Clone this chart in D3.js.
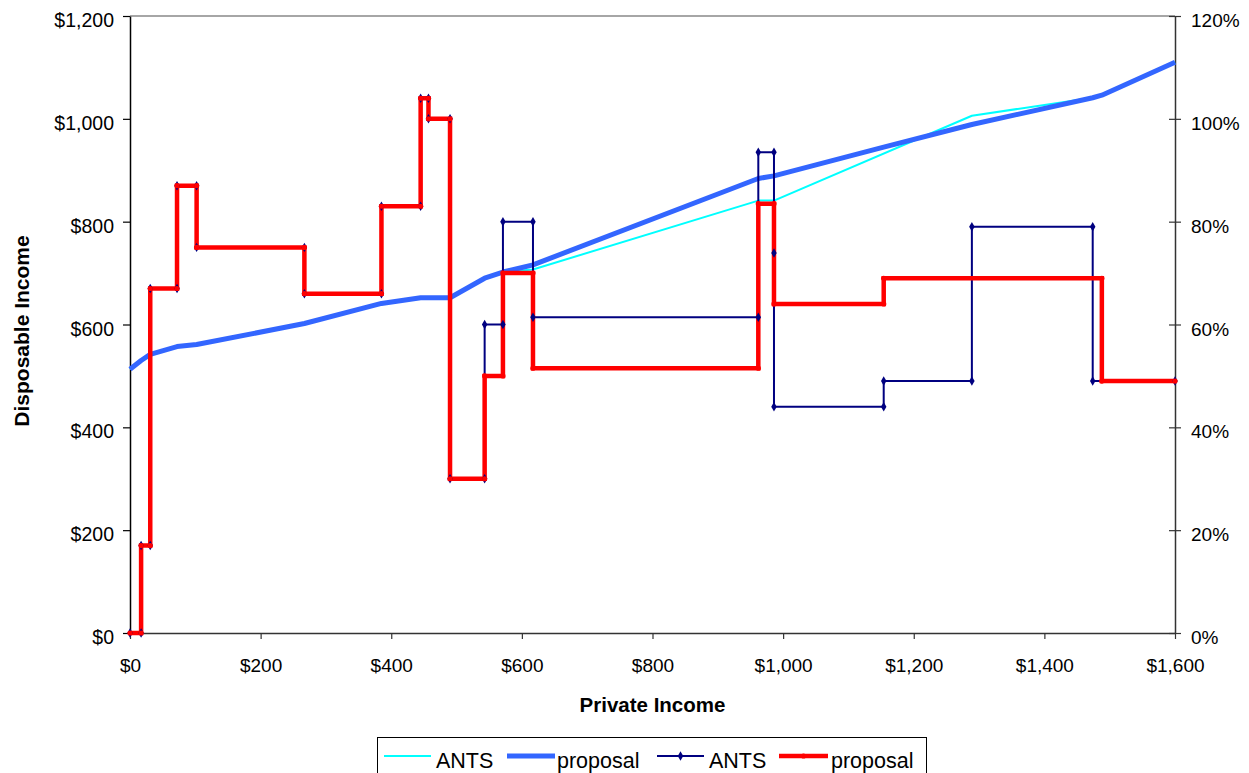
<!DOCTYPE html>
<html>
<head>
<meta charset="utf-8">
<script src="https://cdn.jsdelivr.net/npm/d3@7"></script>
<style>
  html, body { margin: 0; padding: 0; background: #fff; }
  svg { display: block; font-family: "Liberation Sans", Arial, sans-serif; }
</style>
</head>
<body>
<svg id="chart" width="1249" height="773"></svg>
<script>
// Disposable income by private income (left axis, dollars)
const antsIncome     = [0, 17, 31, 72, 102, 267, 385, 445, 490, 543, 571, 617, 962, 986, 1289, 1474, 1488, 1600];
const antsDisposable = [513, 530, 542, 557, 561, 602, 641, 652, 652, 690, 702, 707, 841, 841, 1006, 1041, 1046, 1110];

const proposalIncome     = [0, 17, 31, 72, 102, 267, 385, 445, 490, 543, 571, 617, 962, 986, 1154, 1289, 1474, 1488, 1600];
const proposalDisposable = [513, 530, 542, 557, 561, 602, 641, 652, 652, 690, 702, 716, 884, 889, 945, 989, 1041, 1046, 1110];

// Effective marginal rates (right axis, step lines)
const antsRateIncome = [0, 17, 17, 31, 31, 72, 72, 102, 102, 267, 267, 385, 385, 445, 445, 457, 457, 490, 490,
                        543, 543, 571, 571, 617, 617, 962, 962, 986, 986, 986, 1154, 1154, 1289, 1289, 1474, 1474, 1600];
const antsRate = [0, 0, 0.17, 0.17, 0.67, 0.67, 0.87, 0.87, 0.75, 0.75, 0.66, 0.66, 0.83, 0.83, 1.04, 1.04, 1.00, 1.00, 0.30,
                  0.30, 0.60, 0.60, 0.80, 0.80, 0.614, 0.614, 0.935, 0.935, 0.739, 0.44, 0.44, 0.49, 0.49, 0.79, 0.79, 0.49, 0.49];

const proposalRateIncome = [0, 17, 17, 31, 31, 72, 72, 102, 102, 267, 267, 385, 385, 445, 445, 457, 457, 490, 490,
                            543, 543, 571, 571, 617, 617, 962, 962, 986, 986, 1154, 1154, 1488, 1488, 1600];
const proposalRate = [0, 0, 0.17, 0.17, 0.67, 0.67, 0.87, 0.87, 0.75, 0.75, 0.66, 0.66, 0.83, 0.83, 1.04, 1.04, 1.00, 1.00, 0.30,
                      0.30, 0.50, 0.50, 0.70, 0.70, 0.515, 0.515, 0.835, 0.835, 0.64, 0.64, 0.69, 0.69, 0.49, 0.49];

const xTicks = [0, 200, 400, 600, 800, 1000, 1200, 1400, 1600];
const yTicks = [0, 200, 400, 600, 800, 1000, 1200];
const rTicks = [0, 0.2, 0.4, 0.6, 0.8, 1.0, 1.2];

const legendLabels = ["ANTS", "proposal", "ANTS", "proposal"];

const colors = { antsIncome: "#00ffff", proposalIncome: "#3366ff", antsRate: "#000080", proposalRate: "#ff0000" };

const plot = { left: 130, right: 1175, top: 16, bottom: 633 };

const svg = d3.select("#chart");

const x = d3.scaleLinear().domain([0, 1600]).range([plot.left, plot.right]);
const y = d3.scaleLinear().domain([0, 1200]).range([plot.bottom, plot.top]);
const yr = d3.scaleLinear().domain([0, 1.2]).range([plot.bottom, plot.top]);

const dollar = d3.format(",");

// top border of plot area
svg.append("line")
  .attr("x1", plot.left).attr("x2", plot.right)
  .attr("y1", plot.top).attr("y2", plot.top)
  .attr("stroke", "#888").attr("stroke-width", 1.5);

// left axis
const gLeft = svg.append("g").attr("transform", `translate(${plot.left},0)`)
  .call(d3.axisLeft(y).tickValues(yTicks).tickSize(7).tickSizeOuter(0).tickFormat(d => "$" + dollar(d)));
gLeft.select(".domain").attr("stroke", "#000").attr("stroke-width", 1.5);
gLeft.selectAll(".tick line").attr("stroke", "#000").attr("stroke-width", 1.2);
gLeft.selectAll(".tick text").attr("x", -16).attr("dy", null).attr("y", 10.5)
  .attr("font-size", 19.5).attr("fill", "#000").attr("font-family", "Liberation Sans, Arial, sans-serif");

// right axis (ticks cross the axis line)
const gRight = svg.append("g").attr("transform", `translate(${plot.right},0)`)
  .call(d3.axisRight(yr).tickValues(rTicks).tickSize(6).tickSizeOuter(0).tickFormat(d3.format(".0%")));
gRight.select(".domain").attr("stroke", "#333").attr("stroke-width", 1.5);
gRight.selectAll(".tick line").attr("x1", -6).attr("x2", 6).attr("stroke", "#333").attr("stroke-width", 1.2);
gRight.selectAll(".tick text").attr("x", 16).attr("dy", null).attr("y", 10.5)
  .attr("font-size", 19).attr("fill", "#000").attr("font-family", "Liberation Sans, Arial, sans-serif");

// bottom axis
const gBottom = svg.append("g").attr("transform", `translate(0,${plot.bottom})`)
  .call(d3.axisBottom(x).tickValues(xTicks).tickSize(6).tickSizeOuter(0).tickFormat(d => "$" + dollar(d)));
gBottom.select(".domain").attr("stroke", "#333").attr("stroke-width", 1.5);
gBottom.selectAll(".tick line").attr("stroke", "#333").attr("stroke-width", 1.2);
gBottom.selectAll(".tick text").attr("dy", null).attr("y", 39)
  .attr("font-size", 19).attr("fill", "#000").attr("font-family", "Liberation Sans, Arial, sans-serif");

// axis titles
svg.append("text")
  .attr("x", (plot.left + plot.right) / 2).attr("y", 711.5)
  .attr("text-anchor", "middle").attr("font-size", 20.5).attr("font-weight", "bold")
  .text("Private Income");
svg.append("text")
  .attr("transform", "translate(28.5,331) rotate(-90)")
  .attr("text-anchor", "middle").attr("font-size", 21).attr("font-weight", "bold")
  .text("Disposable Income");

// series
const lineL = d3.line().x(d => x(d[0])).y(d => y(d[1]));
const lineR = d3.line().x(d => x(d[0])).y(d => yr(d[1]));

const antsIncomePts = d3.zip(antsIncome, antsDisposable);
const proposalIncomePts = d3.zip(proposalIncome, proposalDisposable);
const antsRatePts = d3.zip(antsRateIncome, antsRate);
const proposalRatePts = d3.zip(proposalRateIncome, proposalRate);

const gSeries = svg.append("g").attr("fill", "none").attr("stroke-linejoin", "round");

gSeries.append("path").datum(antsIncomePts).attr("d", lineL)
  .attr("stroke", colors.antsIncome).attr("stroke-width", 2);
gSeries.append("path").datum(proposalIncomePts).attr("d", lineL)
  .attr("stroke", colors.proposalIncome).attr("stroke-width", 5);
gSeries.append("path").datum(antsRatePts).attr("d", lineR)
  .attr("stroke", colors.antsRate).attr("stroke-width", 2);
gSeries.append("path").datum(proposalRatePts).attr("d", lineR)
  .attr("stroke", colors.proposalRate).attr("stroke-width", 4.5).attr("stroke-linejoin", "miter");

const diamond = d3.symbol().type(d3.symbolDiamond).size(26);

svg.append("g").selectAll("path").data(antsRatePts).join("path")
  .attr("d", diamond)
  .attr("transform", d => `translate(${x(d[0])},${yr(d[1])})`)
  .attr("fill", colors.antsRate);

svg.append("g").selectAll("circle").data(proposalRatePts).join("circle")
  .attr("cx", d => x(d[0])).attr("cy", d => yr(d[1])).attr("r", 2.6)
  .attr("fill", colors.proposalRate);

// legend
const legend = svg.append("g");
legend.append("rect")
  .attr("x", 377.5).attr("y", 737.5).attr("width", 549).attr("height", 60)
  .attr("fill", "#fff").attr("stroke", "#000").attr("stroke-width", 1);

const legendItems = [
  { x0: 384, x1: 431, tx: 436, color: colors.antsIncome, w: 2, marker: null },
  { x0: 507, x1: 555, tx: 557, color: colors.proposalIncome, w: 5, marker: null },
  { x0: 657, x1: 704, tx: 709, color: colors.antsRate, w: 2, marker: "diamond" },
  { x0: 779, x1: 828, tx: 831, color: colors.proposalRate, w: 4.5, marker: "circle" }
];
const ly = 756;
legendItems.forEach((it, i) => {
  legend.append("line")
    .attr("x1", it.x0).attr("x2", it.x1).attr("y1", ly).attr("y2", ly)
    .attr("stroke", it.color).attr("stroke-width", it.w);
  const cx = (it.x0 + it.x1) / 2;
  if (it.marker === "diamond") {
    legend.append("path").attr("d", diamond).attr("transform", `translate(${cx},${ly})`).attr("fill", it.color);
  } else if (it.marker === "circle") {
    legend.append("circle").attr("cx", cx).attr("cy", ly).attr("r", 2.6).attr("fill", it.color);
  }
  legend.append("text")
    .attr("x", it.tx).attr("y", 767.5)
    .attr("font-size", 21.5).attr("fill", "#000")
    .text(legendLabels[i]);
});
</script>
</body>
</html>
